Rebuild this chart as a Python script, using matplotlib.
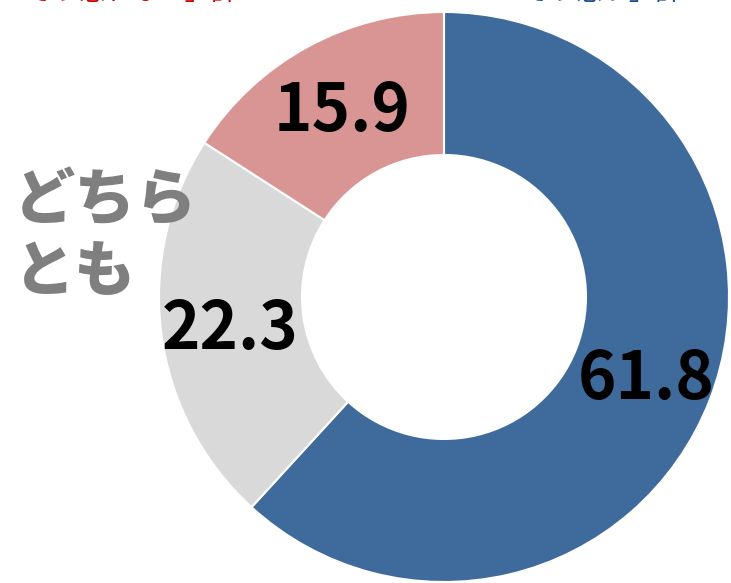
import matplotlib
matplotlib.use("Agg")
import matplotlib.pyplot as plt

plt.rcParams['font.family'] = ['Noto Sans CJK JP', 'DejaVu Sans']

categories = ["そう思う", "どちらとも", "そう思わない"]
values = [61.8, 22.3, 15.9]
colors = ["#3F6A9C", "#D9D9D9", "#D99594"]
value_labels = ["61.8", "22.3", "15.9"]

W, H = 731, 583
fig = plt.figure(figsize=(W / 100, H / 100), dpi=100)
ax = fig.add_axes([0, 0, 1, 1])
ax.set_xlim(0, W)
ax.set_ylim(0, H)
ax.set_aspect('equal')
ax.axis('off')

cx, cy, R, r = 444, H - 297, 285, 142
ax.pie(values, colors=colors, startangle=90, counterclock=False,
       center=(cx, cy), radius=R,
       wedgeprops=dict(width=R - r, edgecolor='white', linewidth=1.5))
ax.set_xlim(0, W)
ax.set_ylim(0, H)

label_pos = [(646, H - 380), (230, H - 330), (342, H - 112)]
for (x, y), t in zip(label_pos, value_labels):
    ax.text(x, y, t, ha='center', va='center', fontsize=47,
            fontweight='bold', color='black')

ax.text(14, H - 237, "どちら\nとも", ha='left', va='center', fontsize=44,
        fontweight='heavy', color='#7F7F7F', linespacing=1.2)

# header text, cut off at the top edge as in the reference
ax.text(120, H + 7, "「そう思わない」計", ha='center', va='center',
        fontsize=19, color='#D00000', clip_on=False)
ax.text(590, H + 7, "「そう思う」計", ha='center', va='center',
        fontsize=19, color='#1F4E8C', clip_on=False)

fig.savefig("out.png", dpi=100)
